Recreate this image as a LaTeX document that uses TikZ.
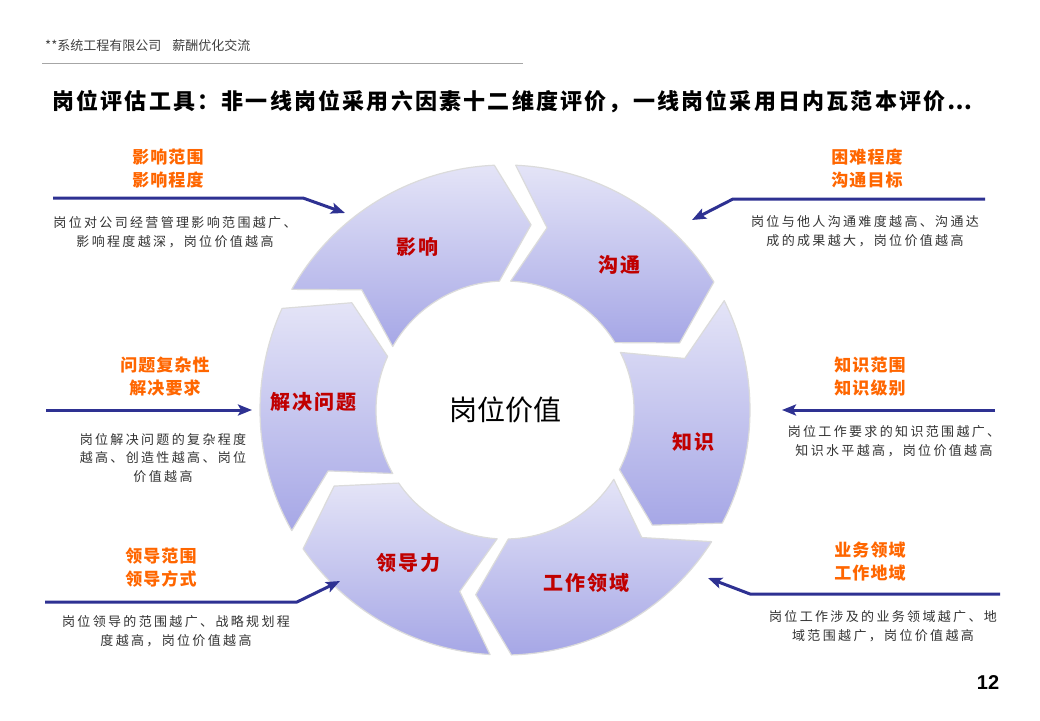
\documentclass[tikz,border=0pt]{standalone}
\usepackage{fontspec}
\setmainfont{Liberation Sans}
\newfontfamily\cjk{Noto Sans CJK SC}
\newfontfamily\cjkbody[LetterSpace=18]{Noto Sans CJK SC}
\newfontfamily\cjktitle[LetterSpace=10]{Noto Sans CJK SC}
\newfontfamily\cjkseg[LetterSpace=10]{Noto Sans CJK SC}
\newfontfamily\cjkor[LetterSpace=6]{Noto Sans CJK SC}
\usetikzlibrary{arrows.meta}

\definecolor{segtop}{HTML}{E4E4F7}
\definecolor{segbot}{HTML}{A6A7E6}
\definecolor{arrowblue}{HTML}{2E3192}
\definecolor{orangetxt}{HTML}{FF6600}
\definecolor{segred}{HTML}{C00000}
\definecolor{bodygray}{HTML}{333333}

\def\segRo{245}\def\segRi{129}\def\segRm{187}\def\segGap{2.5}\def\segDep{10.5}
\newcommand\ringseg[2]{%
  \pgfmathsetmacro\segTa{#1-\segGap}%
  \pgfmathsetmacro\segTn{#1-\segGap-\segDep}%
  \pgfmathsetmacro\segLa{#2+\segGap}%
  \pgfmathsetmacro\segLt{#2+\segGap-\segDep}%
  \path[seg] (\segTa:\segRo) arc[start angle=\segTa, end angle=\segLa, radius=\segRo]
    -- (\segLt:\segRm) -- (\segLa:\segRi)
    arc[start angle=\segLa, end angle=\segTa, radius=\segRi]
    -- (\segTn:\segRm) -- cycle;
}

\begin{document}
\begin{tikzpicture}[x=1pt,y=-1pt,
  seg/.style={draw=black!14, line width=1.2pt, top color=segtop, bottom color=segbot, line join=round},
  orlabel/.style={font=\cjkor\bfseries\fontsize{17}{23}\selectfont, text=orangetxt, align=center, inner sep=0pt},
  bodytxt/.style={font=\cjkbody\fontsize{13}{18.5}\selectfont, text=bodygray, align=center, inner sep=0pt},
  seglabel/.style={font=\cjkseg\bfseries\fontsize{20}{24}\selectfont, text=segred, inner sep=0pt},
  arrowline/.style={draw=arrowblue, line width=3pt, line join=round, -{Stealth[length=14pt,width=11pt,inset=3pt]}}]
\useasboundingbox (0,0) rectangle (1040,720);
\fill[white] (0,0) rectangle (1040,720);

% header
\node[anchor=west, font=\cjk\fontsize{13}{15}\selectfont, text=black!75, inner sep=0pt] (hdr) at (45,46) {**系统工程有限公司\hspace{11pt}薪酬优化交流};
\coordinate (hl1) at (42,63);
\coordinate (hl2) at (523,63);
\draw[gray!70, line width=0.8pt] (hl1) -- (hl2);

% title
\node[anchor=west, font=\cjktitle\bfseries\fontsize{22}{26}\selectfont, inner sep=0pt] (title) at (52,102) {岗位评估工具：非一线岗位采用六因素十二维度评价，一线岗位采用日内瓦范本评价…};

% ring
\begin{scope}[shift={(505,410)}, y=1pt]
  \ringseg{153}{90}
  \ringseg{90}{29}
  \ringseg{29}{-30}
  \ringseg{-30}{-91}
  \ringseg{-91}{-148}
  \ringseg{212}{153}
\end{scope}

\node[seglabel] (s1) at (417,247) {影响};
\node[seglabel] (s2) at (619,265) {沟通};
\node[seglabel] (s3) at (693,442) {知识};
\node[seglabel] (s4) at (586,583) {工作领域};
\node[seglabel] (s5) at (408,563) {领导力};
\node[seglabel] (s6) at (313,402) {解决问题};
\node[font=\cjk\fontsize{28}{32}\selectfont, inner sep=0pt] (core) at (505,410) {岗位价值};

% side labels
\node[orlabel] (o1) at (168,168.5) {影响范围\\影响程度};
\node[bodytxt] (b1) at (175,232) {岗位对公司经营管理影响范围越广、\\影响程度越深，岗位价值越高};
\node[orlabel] (o2) at (867,168.5) {困难程度\\沟通目标};
\node[bodytxt] (b2) at (865,231) {岗位与他人沟通难度越高、沟通达\\成的成果越大，岗位价值越高};
\node[orlabel] (o3) at (165,376.5) {问题复杂性\\解决要求};
\node[bodytxt] (b3) at (163,458) {岗位解决问题的复杂程度\\越高、创造性越高、岗位\\价值越高};
\node[orlabel] (o4) at (870,376.5) {知识范围\\知识级别};
\node[bodytxt] (b4) at (894,441) {岗位工作要求的知识范围越广、\\知识水平越高，岗位价值越高};
\node[orlabel] (o5) at (161,567.5) {领导范围\\领导方式};
\node[bodytxt] (b5) at (176,631) {岗位领导的范围越广、战略规划程\\度越高，岗位价值越高};
\node[orlabel] (o6) at (870,561) {业务领域\\工作地域};
\node[bodytxt] (b6) at (883,626) {岗位工作涉及的业务领域越广、地\\域范围越广，岗位价值越高};

% arrows
\coordinate (a1s) at (53,198); \coordinate (a1c) at (303,198); \coordinate (a1t) at (345,213);
\draw[arrowline] (a1s) -- (a1c) -- (a1t);
\coordinate (a2s) at (985,199); \coordinate (a2c) at (733,199); \coordinate (a2t) at (692,220);
\draw[arrowline] (a2s) -- (a2c) -- (a2t);
\coordinate (a3s) at (46,410); \coordinate (a3t) at (252,410);
\draw[arrowline] (a3s) -- (a3t);
\coordinate (a4s) at (995,410); \coordinate (a4t) at (782,410);
\draw[arrowline] (a4s) -- (a4t);
\coordinate (a5s) at (45,602); \coordinate (a5c) at (297,602); \coordinate (a5t) at (340,581);
\draw[arrowline] (a5s) -- (a5c) -- (a5t);
\coordinate (a6s) at (1000,594); \coordinate (a6c) at (750,594); \coordinate (a6t) at (708,578);
\draw[arrowline] (a6s) -- (a6c) -- (a6t);

% page number
\node[font=\bfseries\fontsize{20}{24}\selectfont, inner sep=0pt] (pg) at (988,683) {12};
\end{tikzpicture}
\end{document}
